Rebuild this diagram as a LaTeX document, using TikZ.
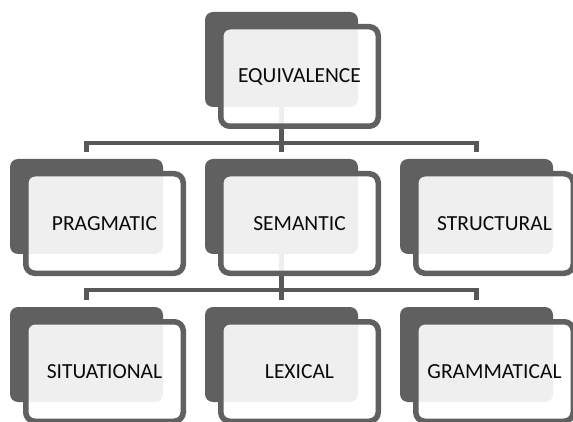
\documentclass[tikz,border=0pt]{standalone}
\usepackage{fontspec}
\setmainfont{Carlito}
\definecolor{boxgray}{RGB}{96,96,96}
\definecolor{linegray}{RGB}{88,88,88}
\definecolor{txt}{RGB}{10,10,10}
\pgfdeclarelayer{bg}
\pgfsetlayers{bg,main}
\begin{document}
\begin{tikzpicture}[x=1pt,y=-1pt,
  backbox/.style={fill=boxgray, draw=none, rounded corners=8pt, minimum width=153pt, minimum height=95pt, inner sep=0pt},
  frontbox/.style={fill=white, fill opacity=0.9, text opacity=1, draw=boxgray, line width=5.5pt, rounded corners=9pt,
     minimum width=157.5pt, minimum height=99.5pt, inner sep=0pt, text=txt, font=\fontsize{21.5}{25}\selectfont},
  conn/.style={draw=linegray, line width=4.5pt}]
\begin{pgfonlayer}{bg}
\fill[white] (0,0) rectangle (573,422);
\end{pgfonlayer}
\useasboundingbox (0,0) rectangle (573,422);
% bus coordinates
\coordinate (bus1) at (281.5,143);
\coordinate (bus2) at (281.5,290);
% back boxes
\node[backbox] (eqb) at (281.5,59.5) {};
\node[backbox] (prb) at (86.5,206.5) {};
\node[backbox] (seb) at (281.5,206.5) {};
\node[backbox] (stb) at (476.5,206.5) {};
\node[backbox] (sib) at (86.5,354.5) {};
\node[backbox] (lxb) at (281.5,354.5) {};
\node[backbox] (grb) at (476.5,354.5) {};
% front boxes
\node[frontbox] (eq) at (299.5,76.5) {EQUIVALENCE};
\node[frontbox] (pr) at (104.5,223.5) {PRAGMATIC};
\node[frontbox] (se) at (299.5,223.5) {SEMANTIC};
\node[frontbox] (st) at (494.5,223.5) {STRUCTURAL};
\node[frontbox] (si) at (104.5,371.5) {SITUATIONAL};
\node[frontbox] (lx) at (299.5,371.5) {LEXICAL};
\node[frontbox] (gr) at (494.5,371.5) {GRAMMATICAL};
% connectors behind everything
\begin{pgfonlayer}{bg}
\draw[conn] (eqb.center) -- ([yshift=7pt]seb.north);
\draw[conn] ([yshift=7pt]prb.north) |- (bus1) -| ([yshift=7pt]stb.north);
\draw[conn] (seb.center) -- ([yshift=7pt]lxb.north);
\draw[conn] ([yshift=7pt]sib.north) |- (bus2) -| ([yshift=7pt]grb.north);
\end{pgfonlayer}
\end{tikzpicture}
\end{document}
